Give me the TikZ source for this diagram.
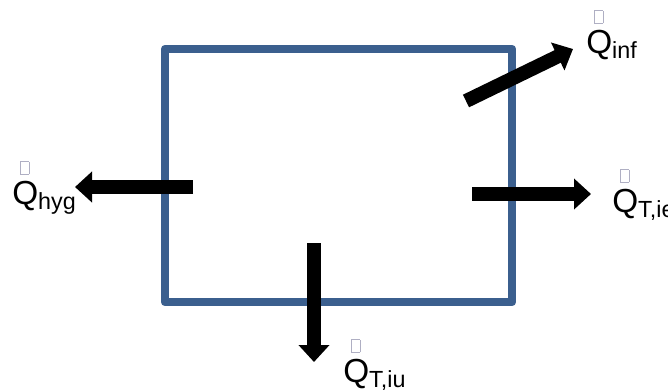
\documentclass[tikz,border=0pt]{standalone}
\usepackage{fontspec}
\setmainfont{Liberation Sans}
\usetikzlibrary{arrows.meta, positioning}

\definecolor{wallblue}{RGB}{59,95,142}
\definecolor{tofugray}{RGB}{175,175,195}
% Q with the small empty box printed above it
\newcommand{\qflow}[1]{\makebox[0pt][l]{\hspace{6pt}\raisebox{22.5pt}{\color{tofugray}\setlength{\fboxsep}{0pt}\setlength{\fboxrule}{0.4pt}\framebox{\rule{0pt}{9pt}\hspace{6pt}}}}Q\textsubscript{#1}}

\begin{document}
\begin{tikzpicture}[x=0.75pt, y=-0.75pt,
		wall/.style={draw=wallblue, line width=6.5pt, line join=round, minimum width=260.25pt, minimum height=189.75pt, inner sep=0pt},
		flow/.style={line width=10.5pt, -{Triangle[length=12.75pt, width=22.5pt]}},
		qlabel/.style={anchor=base west, inner sep=0pt, font=\fontsize{25}{30}\selectfont}]
	\useasboundingbox (0,0) rectangle (668,390);
	
	\node[wall] (room) at (338.5,175.5) {};
	
	% arrow ends
	\coordinate (infstart) at (466,101);
	\coordinate (inftip) at (573,49);
	\coordinate (hygstart) at (193,187);
	\coordinate (hygtip) at (75,187);
	\coordinate (iestart) at (472,194);
	\coordinate (ietip) at (591,194);
	\coordinate (iustart) at (314,243);
	\coordinate (iutip) at (314,362);
	
	\node[qlabel] (qinf) at (586,53) {\qflow{inf}};
	\node[qlabel] (qhyg) at (12,204) {\qflow{hyg}};
	\node[qlabel] (qtie) at (612,212) {\qflow{T,ie}};
	\node[qlabel] (qtiu) at (343,382) {\qflow{T,iu}};
	
	\draw[flow] (infstart) -- (inftip);
	\draw[flow] (hygstart) -- (hygtip);
	\draw[flow] (iestart) -- (ietip);
	\draw[flow] (iustart) -- (iutip);
\end{tikzpicture}
\end{document}
